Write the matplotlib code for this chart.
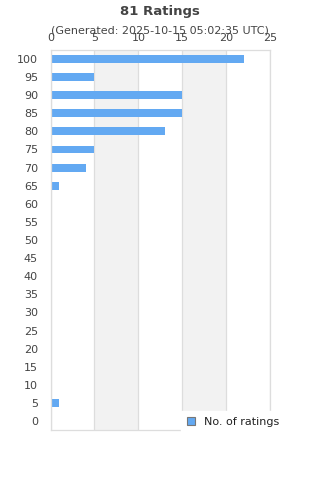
import numpy as np
import matplotlib
matplotlib.use("Agg")
import matplotlib.pyplot as plt

# rating buckets and counts
ratings = [0, 5, 10, 15, 20, 25, 30, 35, 40, 45, 50, 55, 60, 65, 70, 75, 80, 85, 90, 95, 100]
counts = [0, 1, 0, 0, 0, 0, 0, 0, 0, 0, 0, 0, 0, 1, 4, 5, 13, 15, 15, 5, 22]
xticks = [0, 5, 10, 15, 20, 25]

bar_color = "#63a9f2"
text_color = "#444444"
grid_color = "#dddddd"

fig = plt.figure(figsize=(3.2, 4.8), dpi=100)
ax = fig.add_axes([0.158, 0.104, 0.686, 0.792])

# alternating bands
for i in range(len(xticks) - 1):
    if i % 2 == 1:
        ax.axvspan(xticks[i], xticks[i + 1], color="#f2f2f2", zorder=0, lw=0)
for x in xticks:
    ax.axvline(x, color=grid_color, lw=0.9, zorder=1)

ax.barh(ratings, counts, height=2.2, color=bar_color, zorder=2, label="No. of ratings")

ax.set_xlim(0, 25)
ax.set_ylim(-2.5, 102.5)
ax.set_yticks(ratings)
ax.set_yticklabels([str(r) for r in ratings])
ax.set_xticks(xticks)
ax.xaxis.tick_top()
ax.tick_params(axis="both", length=0, labelsize=8, colors=text_color)
ax.tick_params(axis="y", pad=9)
ax.tick_params(axis="x", pad=5)
for s in ax.spines.values():
    s.set_color(grid_color)
    s.set_linewidth(0.9)

fig.text(0.5, 0.977, "81 Ratings", ha="center", va="center", fontsize=9.5,
         fontweight="bold", color=text_color)
fig.text(0.5, 0.937, "(Generated: 2025-10-15 05:02:35 UTC)", ha="center", va="center",
         fontsize=8, color=text_color)

leg = ax.legend(loc="lower right", bbox_to_anchor=(1.091, -0.021), frameon=True,
                fontsize=8, handlelength=0.7, handleheight=0.7, borderpad=0.5,
                fancybox=False)
leg.get_frame().set_edgecolor("white")
leg.get_frame().set_facecolor("white")
leg.get_frame().set_alpha(1)
for h in leg.legend_handles:
    h.set_edgecolor("#777777")
    h.set_linewidth(0.8)
for t in leg.get_texts():
    t.set_color("#222222")

fig.savefig("out.png", dpi=100)
